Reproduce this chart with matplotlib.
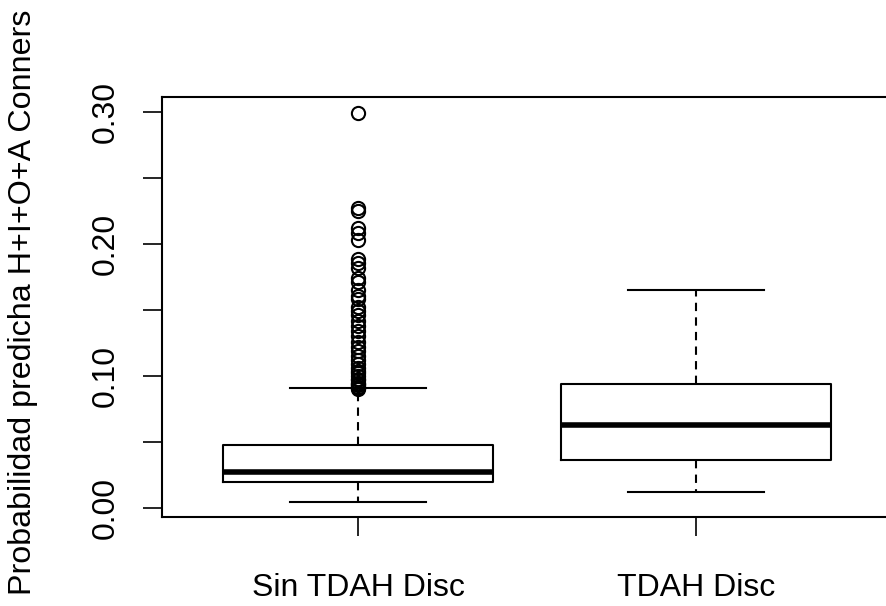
import matplotlib
matplotlib.use("Agg")
import matplotlib.pyplot as plt

plt.rcParams['font.family'] = ['Liberation Sans', 'DejaVu Sans']

groups = ["Sin TDAH Disc", "TDAH Disc"]

# five-number summaries per group
q1 = [0.0197, 0.0361]
med = [0.0275, 0.0629]
q3 = [0.0477, 0.0937]
whislo = [0.0045, 0.0121]
whishi = [0.0909, 0.1650]

outliers_sin = [0.299, 0.227, 0.225, 0.212, 0.208, 0.203, 0.189, 0.186, 0.182,
                0.174, 0.171, 0.165, 0.161, 0.158, 0.152, 0.149, 0.146, 0.142,
                0.138, 0.134, 0.130, 0.126, 0.122, 0.119, 0.115, 0.112, 0.109,
                0.106, 0.104, 0.102, 0.100, 0.098, 0.097, 0.095, 0.094, 0.093,
                0.092, 0.091, 0.0905]
outliers_tdah = []

yticks = [0.00, 0.05, 0.10, 0.15, 0.20, 0.25, 0.30]
ytick_labels = ["0.00", "", "0.10", "", "0.20", "", "0.30"]

stats = []
fliers = [outliers_sin, outliers_tdah]
for i, name in enumerate(groups):
    stats.append(dict(label=name, q1=q1[i], med=med[i], q3=q3[i],
                      whislo=whislo[i], whishi=whishi[i], fliers=fliers[i]))

fig = plt.figure(figsize=(8.87, 6.06), dpi=100)
ax = fig.add_axes([162/887, 89/606, 730/887, 420/606])

ax.bxp(stats, positions=[1, 2], widths=0.8, showcaps=True,
       boxprops=dict(color="black", linewidth=1.5),
       medianprops=dict(color="black", linewidth=4, solid_capstyle="butt"),
       whiskerprops=dict(color="black", linewidth=1.5, linestyle=(0, (4, 3))),
       capprops=dict(color="black", linewidth=1.5),
       flierprops=dict(marker="o", markerfacecolor="none", markeredgecolor="black",
                       markersize=9.5, markeredgewidth=1.5, linestyle="none"),
       capwidths=0.4)

ax.set_xlim(0.42, 2.58)
ax.set_ylim(-0.00682, 0.3114)

ax.set_yticks(yticks)
ax.set_yticklabels(ytick_labels, rotation=90, va="center")
ax.set_xticks([1, 2])
ax.set_xticklabels(groups)

ax.tick_params(axis="both", direction="out", length=14, width=1.2, labelsize=23)
ax.tick_params(axis="y", pad=16)
ax.tick_params(axis="x", pad=26)

for sp in ax.spines.values():
    sp.set_linewidth(1.5)

ax.set_ylabel("Probabilidad predicha H+I+O+A Conners", fontsize=23.2)
ax.yaxis.set_label_coords(-124/730, 0.51)

fig.savefig("out.png", dpi=100)
